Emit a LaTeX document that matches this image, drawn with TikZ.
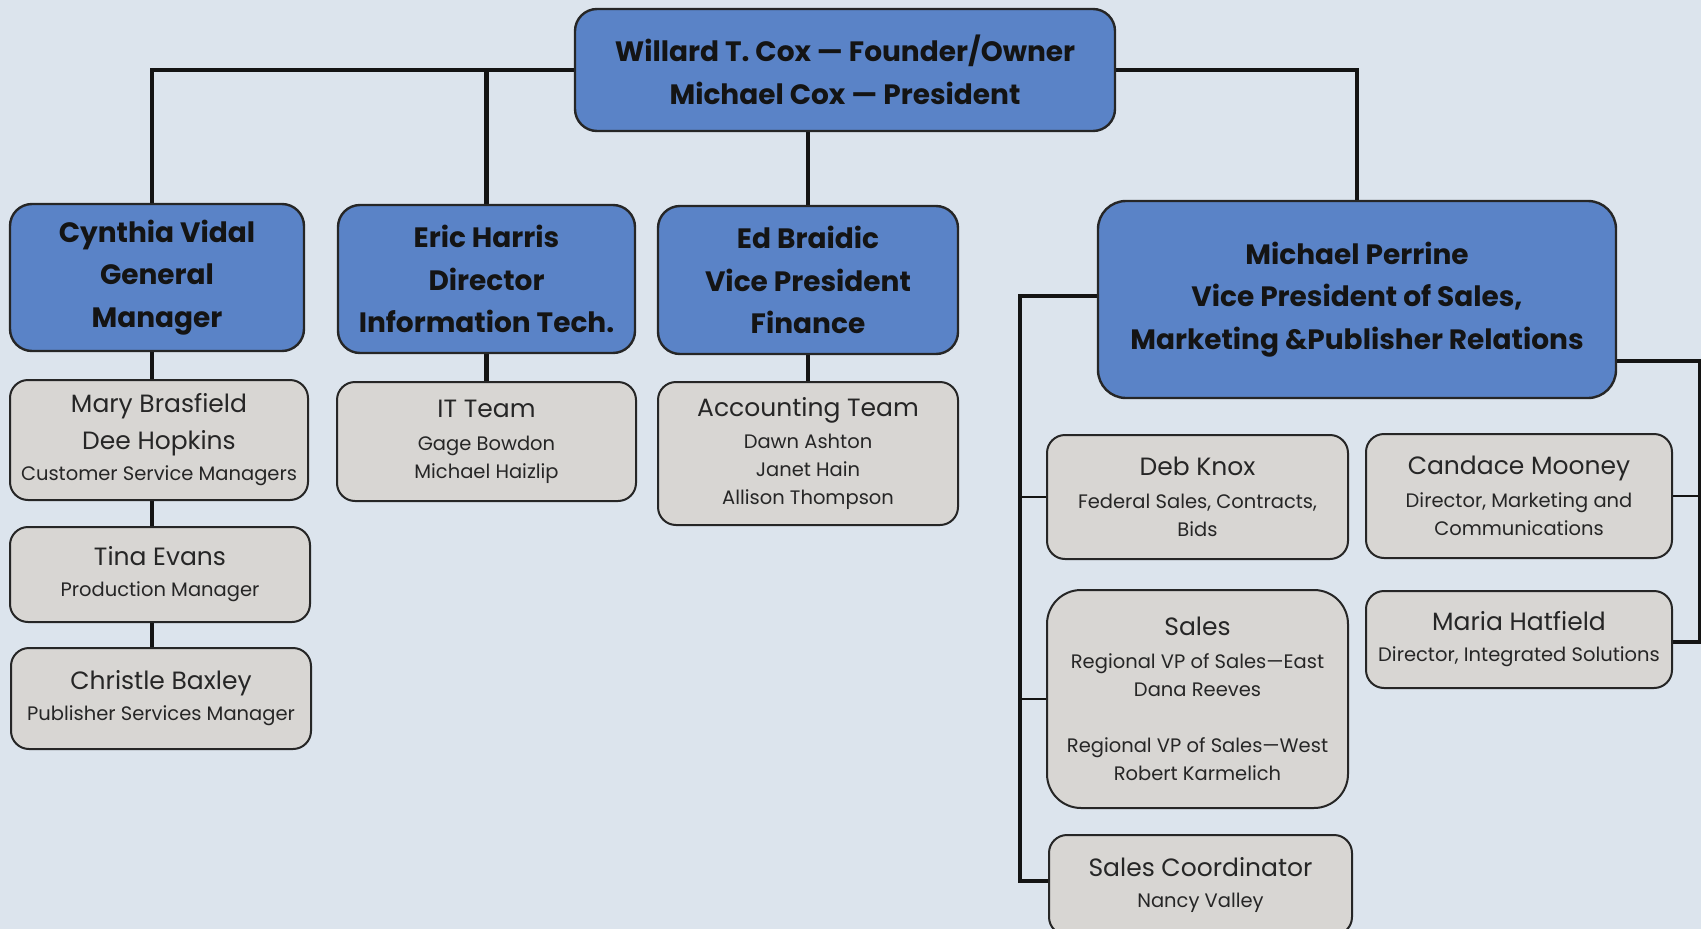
\documentclass[tikz,border=0pt]{standalone}
\usepackage{fontspec}
\setmainfont{Poppins}
\usetikzlibrary{backgrounds}
\definecolor{pagebg}{HTML}{DCE4ED}
\definecolor{bossfill}{HTML}{5A83C7}
\definecolor{stafffill}{HTML}{D8D6D3}
\definecolor{edge}{HTML}{262626}
\definecolor{ink}{HTML}{141414}
\definecolor{greyink}{HTML}{262626}
\newcommand\nmf{\fontsize{25}{33}\selectfont}
\newcommand\sbf{\fontsize{19.5}{28}\selectfont}
\begin{document}
\begin{tikzpicture}[x=1pt,y=-1pt,
  boss/.style={draw=edge, line width=2.4pt, fill=bossfill, rounded corners=22pt,
    align=center, inner sep=0pt, text=ink,
    font=\bfseries\fontsize{28}{42.5}\selectfont},
  staff/.style={draw=edge, line width=2pt, fill=stafffill, rounded corners=18pt,
    align=center, inner sep=0pt, text=greyink, font=\sbf},
  trunk/.style={draw=ink, line width=4.5pt},
  twig/.style={draw=ink, line width=2.2pt}]
\useasboundingbox (0,0) rectangle (1701,929);

% leadership
\node[boss, minimum width=540pt, minimum height=122pt] (top) at (845,70)
  {Willard T. Cox — Founder/Owner\\Michael Cox — President};
\node[boss, minimum width=294pt, minimum height=147pt] (cyn) at (157,277.5)
  {Cynthia Vidal\\General\\Manager};
\node[boss, minimum width=297pt, minimum height=148pt] (eric) at (486.5,279)
  {Eric Harris\\Director\\Information Tech.};
\node[boss, minimum width=300pt, minimum height=148pt] (ed) at (808,280)
  {Ed Braidic\\Vice President\\Finance};
\node[boss, minimum width=518pt, minimum height=197pt, rounded corners=28pt] (perr) at (1357,299.5)
  {Michael Perrine\\Vice President of Sales,\\Marketing \&Publisher Relations};

% staff under the general manager
\node[staff, minimum width=298pt, minimum height=120pt] (mary) at (159,440)
  {{\nmf Mary Brasfield}\\[9pt]{\nmf Dee Hopkins}\\[3pt]Customer Service Managers};
\node[staff, minimum width=300pt, minimum height=95pt] (tina) at (160,574.5)
  {{\nmf Tina Evans}\\[3pt]Production Manager};
\node[staff, minimum width=300pt, minimum height=101pt] (chr) at (161,698.5)
  {{\nmf Christle Baxley}\\[3pt]Publisher Services Manager};

% teams
\node[staff, minimum width=299pt, minimum height=119pt] (it) at (486.5,441.5)
  {{\nmf IT Team}\\[5pt]Gage Bowdon\\Michael Haizlip};
\node[staff, minimum width=300pt, minimum height=143pt] (acc) at (808,453.5)
  {{\nmf Accounting Team}\\[4pt]Dawn Ashton\\Janet Hain\\Allison Thompson};

% sales, marketing and publisher relations
\node[staff, minimum width=301pt, minimum height=124pt] (deb) at (1197.5,497)
  {{\nmf Deb Knox}\\[5pt]Federal Sales, Contracts,\\Bids};
\node[staff, minimum width=306pt, minimum height=124pt] (cand) at (1519,496)
  {{\nmf Candace Mooney}\\[5pt]Director, Marketing and\\Communications};
\node[staff, minimum width=301pt, minimum height=218pt, rounded corners=34pt] (sales) at (1197.5,699)
  {{\nmf Sales}\\[5pt]Regional VP of Sales—East\\Dana Reeves\\[28pt]Regional VP of Sales—West\\Robert Karmelich};
\node[staff, minimum width=306pt, minimum height=97pt] (maria) at (1519,639.5)
  {{\nmf Maria Hatfield}\\[3pt]Director, Integrated Solutions};
\node[staff, minimum width=303pt, minimum height=100pt] (sc) at (1200.5,885)
  {{\nmf Sales Coordinator}\\[3pt]Nancy Valley};

\coordinate (gmx) at (152,0);
\coordinate (lbar) at (1020,0);
\coordinate (rbar) at (1700,0);

\begin{pgfonlayer}{background}
  \fill[pagebg] (0,0) rectangle (1701,929);
  % reporting lines from the top
  \draw[trunk] (top.west) -| (gmx |- cyn.north);
  \draw[trunk] (eric.north) -- (eric.north |- top.west);
  \draw[trunk] (ed.north) -- (ed.north |- top.south);
  \draw[trunk] (top.east) -| (perr.north);
  % general manager column
  \draw[trunk] (gmx |- cyn.south) -- (gmx |- mary.north);
  \draw[trunk] (gmx |- mary.south) -- (gmx |- tina.north);
  \draw[trunk] (gmx |- tina.south) -- (gmx |- chr.north);
  % teams
  \draw[trunk] (eric.south) -- (it.north);
  \draw[trunk] (ed.south) -- (acc.north);
  % left bracket of the sales division
  \draw[trunk] ([yshift=3.5pt]perr.west) -| ([yshift=4pt]lbar |- sc.west) -- ([yshift=4pt]sc.west);
  \draw[twig] (deb.west) -- (deb.west -| lbar);
  \draw[twig] (sales.west) -- (sales.west -| lbar);
  % right bracket of the sales division
  \draw[trunk] ([yshift=-61.5pt]perr.east) -| ([yshift=-2.5pt]rbar |- maria.east) -- ([yshift=-2.5pt]maria.east);
  \draw[twig] (cand.east) -- (cand.east -| rbar);
\end{pgfonlayer}
\end{tikzpicture}
\end{document}
